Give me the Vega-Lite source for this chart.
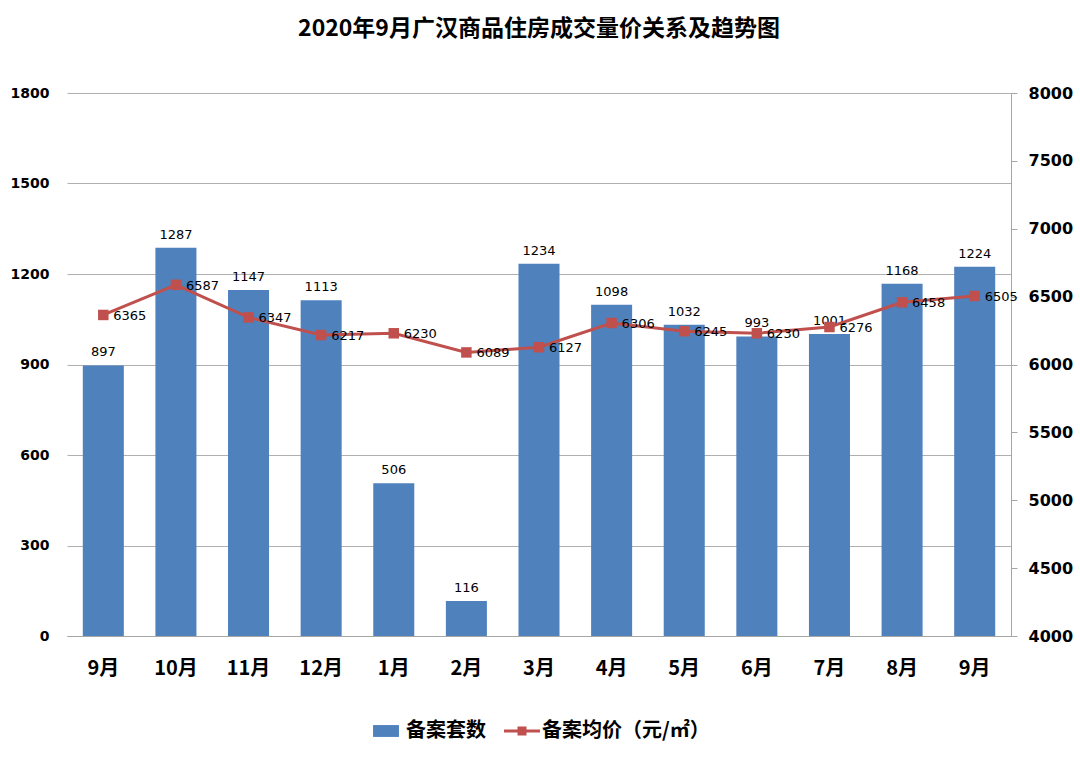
{
  "$schema": "https://vega.github.io/schema/vega-lite/v6.json",
  "autosize": "none",
  "width": 944,
  "height": 543,
  "padding": {"left": 67, "top": 93, "right": 69, "bottom": 123},
  "background": "white",
  "title": {
    "text": "2020年9月广汉商品住房成交量价关系及趋势图",
    "font": "Noto Sans CJK SC",
    "fontSize": 23,
    "fontWeight": "bold",
    "color": "#000000",
    "anchor": "middle",
    "offset": 44
  },
  "config": {
    "view": {"stroke": null},
    "axis": {"labelColor": "#000000"},
    "legend": {
      "orient": "none",
      "legendX": 301,
      "legendY": 620,
      "direction": "horizontal",
      "title": null,
      "labelFont": "Noto Sans CJK SC",
      "labelFontSize": 20,
      "labelFontWeight": "bold",
      "labelColor": "#000000",
      "labelLimit": 0,
      "symbolSize": 1296,
      "columnPadding": 18,
      "labelOffset": 2
    }
  },
  "data": {
    "values": [
      {"期": "2019年9月", "套数": 897, "均价": 6365},
      {"期": "2019年10月", "套数": 1287, "均价": 6587},
      {"期": "2019年11月", "套数": 1147, "均价": 6347},
      {"期": "2019年12月", "套数": 1113, "均价": 6217},
      {"期": "2020年1月", "套数": 506, "均价": 6230},
      {"期": "2020年2月", "套数": 116, "均价": 6089},
      {"期": "2020年3月", "套数": 1234, "均价": 6127},
      {"期": "2020年4月", "套数": 1098, "均价": 6306},
      {"期": "2020年5月", "套数": 1032, "均价": 6245},
      {"期": "2020年6月", "套数": 993, "均价": 6230},
      {"期": "2020年7月", "套数": 1001, "均价": 6276},
      {"期": "2020年8月", "套数": 1168, "均价": 6458},
      {"期": "2020年9月", "套数": 1224, "均价": 6505}
    ]
  },
  "encoding": {
    "x": {
      "field": "期",
      "type": "nominal",
      "sort": null,
      "scale": {"paddingInner": 0.435, "paddingOuter": 0.2175},
      "axis": {
        "title": null,
        "labelExpr": "split(datum.label, '年')[1]",
        "labelAngle": 0,
        "labelFont": "Noto Sans CJK SC",
        "labelFontSize": 20,
        "labelFontWeight": "bold",
        "labelPadding": 22,
        "ticks": false,
        "domainColor": "#a6a6a6",
        "domainWidth": 1
      }
    }
  },
  "layer": [
    {
      "layer": [
        {
          "mark": {"type": "bar", "color": "#4F81BD"},
          "encoding": {
            "y": {
              "field": "套数",
              "type": "quantitative",
              "scale": {"domain": [0, 1800], "nice": false},
              "axis": {
                "title": null,
                "orient": "left",
                "format": "d",
                "values": [0, 300, 600, 900, 1200, 1500, 1800],
                "domain": false,
                "ticks": false,
                "tickSize": 0,
                "grid": true,
                "gridColor": "#b0b0b0",
                "gridWidth": 1,
                "labelFont": "DejaVu Sans",
                "labelFontSize": 14,
                "labelFontWeight": "bold",
                "labelPadding": 18
              }
            },
            "color": {
              "datum": "备案套数",
              "type": "nominal",
              "scale": {"domain": ["备案套数", "备案均价（元/㎡）"], "range": ["#4F81BD", "#C0504D"]},
              "legend": {
                "encode": {
                  "symbols": {
                    "update": {
                      "shape": {"signal": "datum.value === '备案套数' ? 'M-0.72,-0.33H0.72V0.33H-0.72Z' : 'M-1,-0.08H1V0.08H-1Z M-0.25,-0.25H0.25V0.25H-0.25Z'"},
                      "fill": {"signal": "datum.value === '备案套数' ? '#4F81BD' : '#C0504D'"},
                      "stroke": {"value": null},
                      "strokeWidth": {"value": 0},
                      "opacity": {"value": 1},
                      "fillOpacity": {"value": 1}
                    }
                  }
                }
              }
            }
          }
        },
        {
          "mark": {"type": "text", "baseline": "bottom", "dy": -6, "font": "DejaVu Sans", "fontSize": 13, "color": "#000000"},
          "encoding": {
            "y": {"field": "套数", "type": "quantitative"},
            "text": {"field": "套数", "type": "quantitative"}
          }
        }
      ]
    },
    {
      "layer": [
        {
          "mark": {"type": "line", "strokeWidth": 3, "point": {"shape": "square", "size": 110, "filled": true, "opacity": 1}},
          "encoding": {
            "y": {
              "field": "均价",
              "type": "quantitative",
              "scale": {"domain": [4000, 8000], "nice": false},
              "axis": {
                "title": null,
                "orient": "right",
                "format": "d",
                "values": [4000, 4500, 5000, 5500, 6000, 6500, 7000, 7500, 8000],
                "grid": false,
                "domain": true,
                "domainColor": "#a6a6a6",
                "ticks": true,
                "tickColor": "#a6a6a6",
                "tickSize": 6,
                "labelFont": "DejaVu Sans",
                "labelFontSize": 16,
                "labelFontWeight": "bold",
                "labelPadding": 11
              }
            },
            "color": {"datum": "备案均价（元/㎡）", "type": "nominal"}
          }
        },
        {
          "mark": {"type": "text", "align": "left", "baseline": "middle", "dx": 10, "dy": 1, "font": "DejaVu Sans", "fontSize": 13, "color": "#000000"},
          "encoding": {
            "y": {"field": "均价", "type": "quantitative"},
            "text": {"field": "均价", "type": "quantitative"}
          }
        }
      ]
    }
  ],
  "resolve": {"scale": {"y": "independent"}}
}
